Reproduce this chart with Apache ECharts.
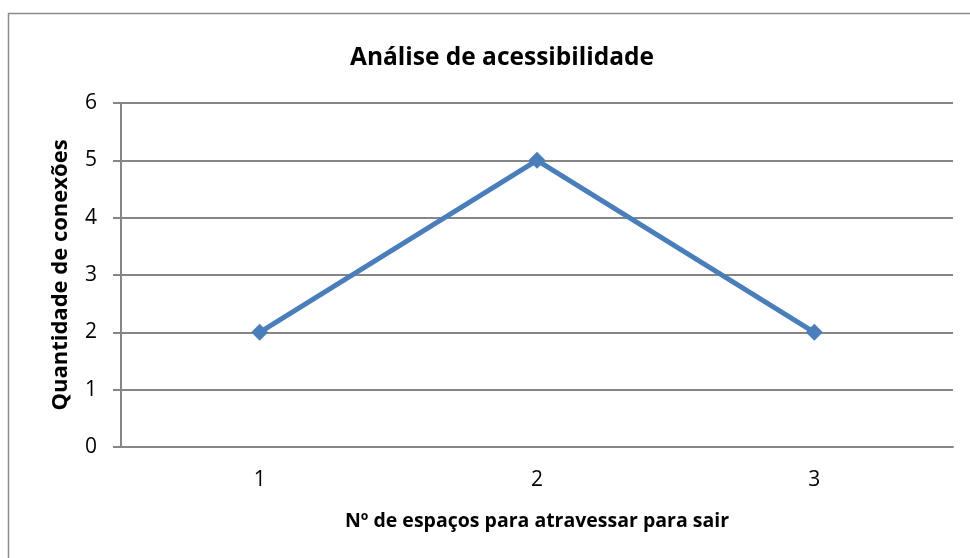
<!DOCTYPE html>
<html><head><meta charset="utf-8">
<script src="https://cdn.jsdelivr.net/npm/echarts@6/dist/echarts.min.js"></script>
<style>html,body{margin:0;padding:0;background:#fff}#c{width:970px;height:558px}</style>
</head><body><div id="c"></div>
<script>
const categories = ['1', '2', '3'];
const values = [2, 5, 2];
const yTicks = [0, 1, 2, 3, 4, 5, 6];
const titleText = 'Análise de acessibilidade';
const xTitle = 'Nº de espaços para atravessar para sair';
const yTitle = 'Quantidade de conexões';

const FONT = 'Open Sans';
const chart = echarts.init(document.getElementById('c'), null, {renderer: 'canvas'});
chart.setOption({
  animation: false,
  backgroundColor: '#fff',
  graphic: [{
    type: 'rect', shape: {x: 8.5, y: 13.5, width: 1000, height: 600},
    style: {fill: 'none', stroke: '#8c8c8c', lineWidth: 1.5}, z: -1
  }],
  title: {
    text: titleText, left: 497, top: 41, textAlign: 'center',
    textStyle: {fontFamily: FONT, fontSize: 24.5, fontWeight: 'bold', color: '#000'}
  },
  grid: {left: 121, right: 17, top: 103, bottom: 111},
  xAxis: {
    type: 'category', data: categories, boundaryGap: true,
    name: xTitle, nameLocation: 'middle', nameGap: 64,
    nameTextStyle: {fontFamily: FONT, fontSize: 19.5, fontWeight: 'bold', color: '#000'},
    axisLine: {lineStyle: {color: '#868686', width: 2}},
    axisTick: {show: false},
    axisLabel: {fontFamily: FONT, fontSize: 21, color: '#000', margin: 23}
  },
  yAxis: {
    type: 'value', min: yTicks[0], max: yTicks[yTicks.length - 1], interval: 1,
    name: yTitle, nameLocation: 'middle', nameGap: 49,
    nameTextStyle: {fontFamily: FONT, fontSize: 22, fontWeight: 'bold', color: '#000'},
    axisLine: {show: true, lineStyle: {color: '#868686', width: 2}},
    axisTick: {show: true, length: 8, lineStyle: {color: '#868686', width: 2}},
    axisLabel: {fontFamily: FONT, fontSize: 21, color: '#000', margin: 24},
    splitLine: {lineStyle: {color: '#868686', width: 2}}
  },
  series: [{
    type: 'line', data: values,
    lineStyle: {color: '#4A7EBB', width: 5},
    itemStyle: {color: '#4A7EBB'},
    symbol: 'diamond', symbolSize: 17, showSymbol: true
  }]
});
</script></body></html>
